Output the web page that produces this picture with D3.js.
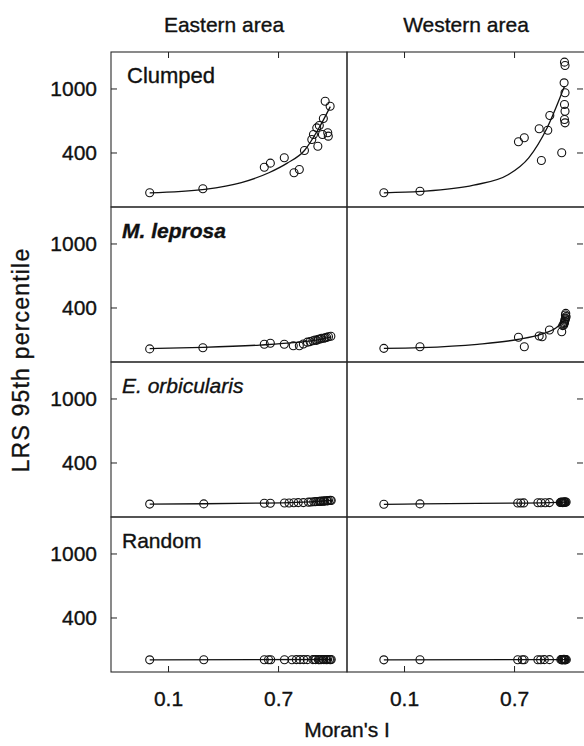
<!DOCTYPE html>
<html>
<head>
<meta charset="utf-8">
<script src="https://cdn.jsdelivr.net/npm/d3@7"></script>
<style>
  html, body { margin: 0; padding: 0; background: #fff; }
  svg { display: block; }
  text { font-family: "Liberation Sans", Arial, Helvetica, sans-serif; fill: #111; stroke: #111; stroke-width: 0.35px; }
</style>
</head>
<body>
<svg id="chart" width="584" height="746"></svg>
<script>
// Column and row headers
const areas = ["Eastern area", "Western area"];
const patterns = ["Clumped", "M. leprosa", "E. orbicularis", "Random"];
const yTicks = [400, 1000];
const xTicks = [0.1, 0.7];

// Points: [Moran's I, LRS 95th percentile]
const clumpedEast = [[0.0,22],[0.29,60],[0.625,262],[0.658,300],[0.734,350],[0.787,210],[0.816,241],
  [0.844,419],[0.884,522],[0.893,569],[0.911,631],[0.917,459],[0.925,653],[0.942,569],[0.947,719],
  [0.957,881],[0.971,585],[0.974,553],[0.984,834]];
const clumpedEastFit = [[0.0,22],[0.3,55],[0.5,118],[0.65,210],[0.75,300],[0.844,419],[0.92,620],[0.985,830]];

const clumpedWest = [[-0.01,22],[0.187,37],[0.724,500],[0.756,538],[0.837,622],[0.849,325],[0.884,609],
  [0.895,747],[0.96,397],[0.975,1247],[0.978,1216],[0.973,1053],[0.978,960],[0.975,850],[0.978,787],
  [0.975,709],[0.978,678]];
const clumpedWestFit = [[-0.01,22],[0.19,35],[0.48,94],[0.67,194],[0.78,350],[0.88,630],[0.975,1020]];

const leprosaEast = [[0.0,12],[0.29,22],[0.625,55],[0.658,65],[0.734,55],[0.783,42],[0.816,42],[0.838,58],
  [0.86,75],[0.875,80],[0.89,88],[0.902,95],[0.91,92],[0.92,102],[0.93,105],[0.938,111],[0.95,112],
  [0.957,117],[0.965,120],[0.975,126],[0.988,130]];
const leprosaEastFit = [[0.0,15],[0.29,26],[0.6,48],[0.8,72],[0.9,92],[0.99,125]];

const leprosaWest = [[-0.01,17],[0.187,32],[0.724,121],[0.756,32],[0.837,133],[0.853,126],[0.893,189],
  [0.96,173],[0.965,230],[0.971,236],[0.975,258],[0.978,283],[0.98,300],[0.984,314],[0.98,330],
  [0.976,270],[0.982,345],[0.972,250],[0.979,292]];
const leprosaWestFit = [[-0.01,17],[0.19,24],[0.5,55],[0.72,100],[0.85,150],[0.93,210],[0.98,290]];

const orbicularisEast = [[0.0,10],[0.295,12],[0.625,18],[0.658,18],[0.735,20],[0.76,20],[0.786,22],
  [0.81,24],[0.838,24],[0.866,28],[0.88,30],[0.895,32],[0.905,33],[0.915,34],[0.925,36],[0.935,38],
  [0.945,38],[0.955,40],[0.965,42],[0.975,44],[0.985,46],[0.93,34],[0.95,36],[0.97,40],[0.99,44]];
const orbicularisEastFit = [[0.0,10],[0.3,13],[0.6,19],[0.8,27],[0.9,34],[0.99,44]];

const orbicularisWest = [[-0.01,8],[0.187,12],[0.72,20],[0.737,20],[0.753,21],[0.83,22],[0.847,22],
  [0.87,23],[0.893,24],[0.952,25],[0.956,26],[0.96,25],[0.964,27],[0.968,26],[0.972,27],[0.976,28],
  [0.98,28],[0.984,29],[0.966,24],[0.974,30],[0.958,29]];
const orbicularisWestFit = [[-0.01,8],[0.19,12],[0.7,19],[0.85,22],[0.984,28]];

const randomEast = [[0.0,3],[0.295,4],[0.625,4],[0.648,4],[0.66,4],[0.735,4],[0.776,4],[0.8,5],[0.82,5],
  [0.84,5],[0.86,5],[0.89,5],[0.905,5],[0.92,5],[0.935,5],[0.95,5],[0.96,6],[0.97,6],[0.98,6],[0.99,6],
  [0.9,6],[0.925,4],[0.945,6],[0.965,4],[0.985,4]];
const randomEastFit = [[0.0,3],[0.99,6]];

const randomWest = [[-0.01,3],[0.187,4],[0.72,4],[0.745,4],[0.755,4],[0.83,4],[0.845,4],[0.865,5],
  [0.893,5],[0.955,5],[0.96,5],[0.965,5],[0.97,5],[0.975,5],[0.98,5],[0.985,5],[0.962,3],[0.972,7],[0.978,3]];
const randomWestFit = [[-0.01,3],[0.985,5]];

const panels = [
  [clumpedEast, clumpedEastFit, clumpedWest, clumpedWestFit],
  [leprosaEast, leprosaEastFit, leprosaWest, leprosaWestFit],
  [orbicularisEast, orbicularisEastFit, orbicularisWest, orbicularisWestFit],
  [randomEast, randomEastFit, randomWest, randomWestFit]
];

// Grid geometry
const gridLeft = 111, gridTop = 52, colW = 236, rowH = 155;
const svg = d3.select("#chart");

const x = d3.scaleLinear().domain([-0.211, 1.076]).range([0, colW]);
const y = d3.scaleLinear().domain([-111, 1342]).range([rowH, 0]);
const line = d3.line().x(d => x(d[0])).y(d => y(d[1])).curve(d3.curveMonotoneX);

const labelFont = 21;

panels.forEach((row, r) => {
  for (let c = 0; c < 2; c++) {
    const g = svg.append("g")
      .attr("transform", `translate(${gridLeft + c * colW},${gridTop + r * rowH})`);

    // the outer right frame runs just past the page edge
    g.append("rect")
      .attr("width", c === 1 ? colW + 4 : colW).attr("height", rowH)
      .attr("fill", "none").attr("stroke", "#2a2a2a").attr("stroke-width", 1.1);

    const pts = row[c * 2], fit = row[c * 2 + 1];

    g.append("path").datum(fit)
      .attr("d", line)
      .attr("fill", "none").attr("stroke", "#111").attr("stroke-width", 1.3);

    g.selectAll("circle.pt").data(pts).join("circle")
      .attr("class", "pt")
      .attr("cx", d => x(d[0])).attr("cy", d => y(d[1]))
      .attr("r", 4)
      .attr("fill", "none").attr("stroke", "#111").attr("stroke-width", 1.1);

    // y ticks on the outer edges only
    if (c === 0) {
      const ay = g.append("g").call(d3.axisLeft(y).tickValues(yTicks)
        .tickSizeInner(-6).tickSizeOuter(0).tickPadding(14).tickFormat(d3.format("d")));
      ay.select(".domain").remove();
      ay.selectAll("text").attr("font-size", labelFont).attr("font-family", null);
    } else {
      const ay = g.append("g").attr("transform", `translate(${colW},0)`)
        .call(d3.axisRight(y).tickValues(yTicks).tickSizeInner(-6).tickSizeOuter(0).tickFormat(""));
      ay.select(".domain").remove();
    }
    if (r === 0) {
      const ax = g.append("g").call(d3.axisTop(x).tickValues(xTicks)
        .tickSizeInner(-6).tickSizeOuter(0).tickFormat(""));
      ax.select(".domain").remove();
    }
    if (r === panels.length - 1) {
      const ax = g.append("g").attr("transform", `translate(0,${rowH})`)
        .call(d3.axisBottom(x).tickValues(xTicks).tickSizeInner(-6).tickSizeOuter(0)
          .tickPadding(19).tickFormat(d3.format(".1f")));
      ax.select(".domain").remove();
      ax.selectAll("text").attr("font-size", labelFont).attr("font-family", null);
    }
    g.selectAll(".tick line").attr("stroke", "#222");

    // pattern label in the eastern panel
    if (c === 0) {
      g.append("text")
        .attr("x", r === 0 ? 16 : 11).attr("y", 31)
        .attr("font-size", r === 0 ? 22 : labelFont)
        .attr("font-style", r === 1 || r === 2 ? "italic" : "normal")
        .attr("font-weight", r === 1 ? "bold" : "normal")
        .text(patterns[r]);
    }
  }
});

// Column headers
areas.forEach((a, c) => {
  svg.append("text")
    .attr("x", gridLeft + c * colW + colW / 2 - (c === 0 ? 5 : -1))
    .attr("y", 32)
    .attr("text-anchor", "middle")
    .attr("font-size", labelFont)
    .text(a);
});

// Axis titles
svg.append("text")
  .attr("x", gridLeft + colW).attr("y", 737)
  .attr("text-anchor", "middle")
  .attr("font-size", labelFont)
  .text("Moran's I");

svg.append("text")
  .attr("transform", `translate(29,${gridTop + 2 * rowH - 2}) rotate(-90)`)
  .attr("text-anchor", "middle")
  .attr("font-size", 23)
  .attr("letter-spacing", 1.2)
  .text("LRS 95th percentile");
</script>
</body>
</html>
